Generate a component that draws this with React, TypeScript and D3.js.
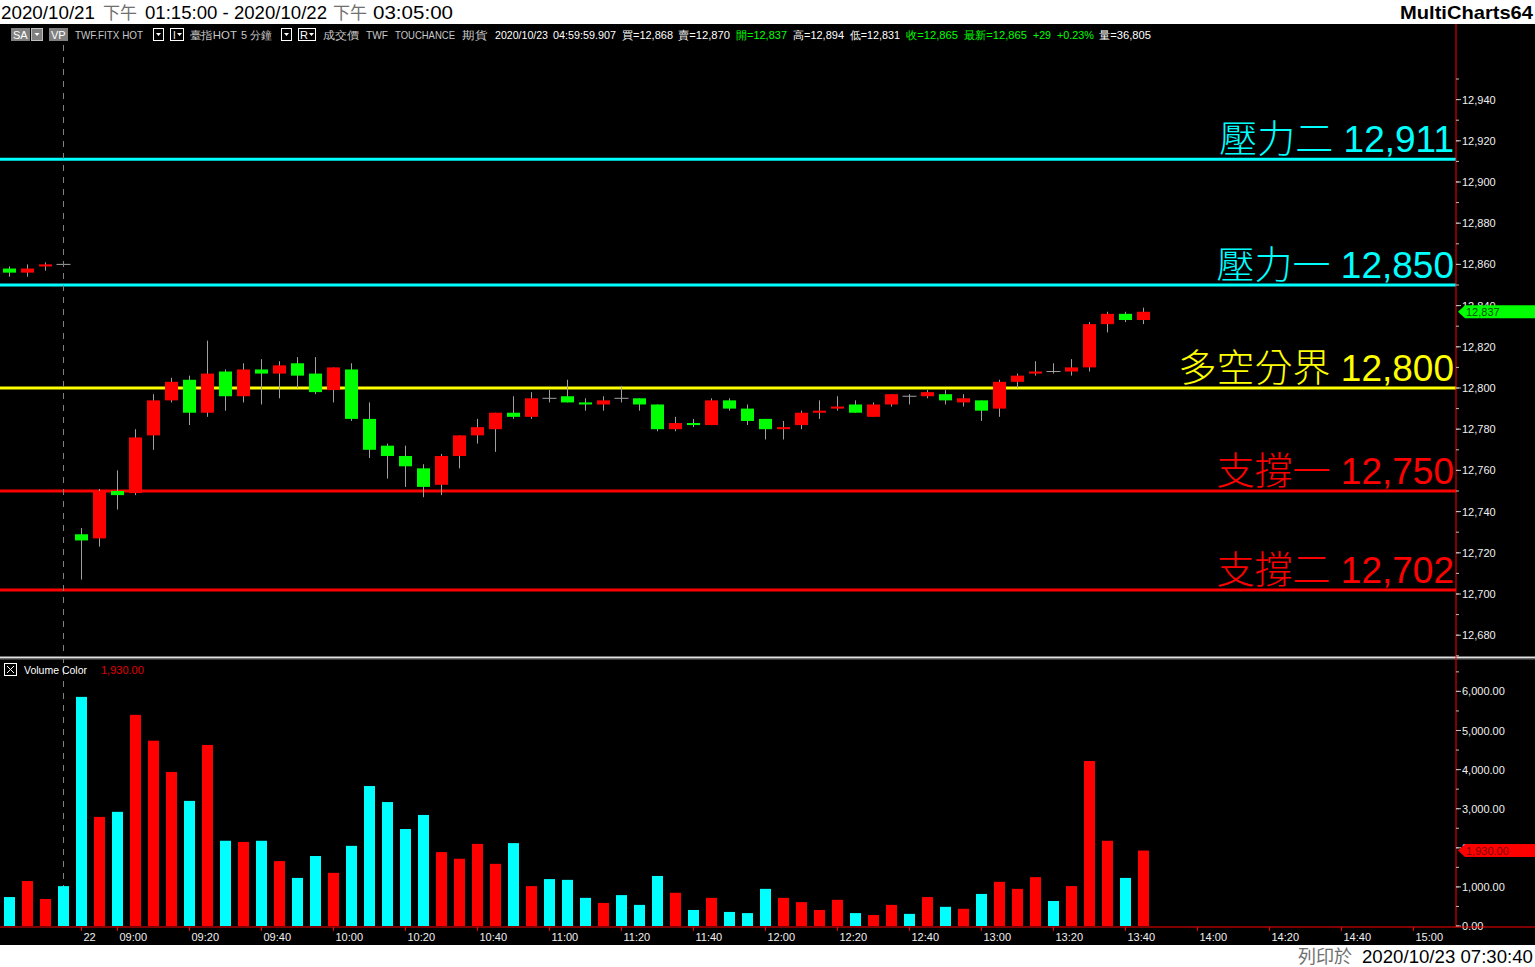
import React from "react";
import * as d3 from "d3";

// ---------------- DATA ----------------
const barTimes = [
  "13:30", "13:35", "13:40", "13:45",
  "08:50", "08:55", "09:00", "09:05", "09:10", "09:15", "09:20", "09:25", "09:30", "09:35",
  "09:40", "09:45", "09:50", "09:55", "10:00", "10:05", "10:10", "10:15", "10:20", "10:25",
  "10:30", "10:35", "10:40", "10:45", "10:50", "10:55", "11:00", "11:05", "11:10", "11:15",
  "11:20", "11:25", "11:30", "11:35", "11:40", "11:45", "11:50", "11:55", "12:00", "12:05",
  "12:10", "12:15", "12:20", "12:25", "12:30", "12:35", "12:40", "12:45", "12:50", "12:55",
  "13:00", "13:05", "13:10", "13:15", "13:20", "13:25", "13:30", "13:35", "13:40", "13:45",
];
const openValues = [
  12858, 12856, 12859, 12860,
  12729, 12727, 12750, 12749, 12777, 12794, 12804, 12788, 12808, 12796,
  12809, 12807, 12812, 12807, 12799, 12809, 12785, 12772, 12767, 12761,
  12753, 12767, 12777, 12780, 12788, 12786, 12795, 12796, 12793, 12792,
  12795, 12795, 12792, 12780, 12783, 12782, 12794, 12790, 12785, 12780,
  12782, 12788, 12790, 12792, 12786, 12792, 12796, 12796, 12797, 12793,
  12794, 12790, 12803, 12807, 12808, 12808, 12810, 12831, 12836, 12833,
];
const highValues = [
  12859, 12860, 12861, 12861,
  12732, 12751, 12760, 12780, 12797, 12805, 12806, 12823, 12809, 12812,
  12814, 12813, 12815, 12815, 12810, 12812, 12793, 12773, 12772, 12763,
  12768, 12777, 12785, 12788, 12796, 12798, 12799, 12804, 12795, 12796,
  12801, 12795, 12792, 12786, 12785, 12795, 12795, 12792, 12785, 12784,
  12789, 12794, 12796, 12794, 12793, 12797, 12797, 12799, 12799, 12797,
  12794, 12804, 12807, 12813, 12812, 12814, 12832, 12837, 12837, 12839,
];
const lowValues = [
  12854, 12854, 12857, 12859,
  12707, 12723, 12741, 12748, 12770, 12793, 12782, 12786, 12789, 12793,
  12792, 12795, 12800, 12797, 12793, 12784, 12766, 12756, 12752, 12747,
  12748, 12761, 12773, 12769, 12785, 12785, 12793, 12793, 12789, 12789,
  12793, 12789, 12779, 12779, 12781, 12782, 12789, 12782, 12775, 12775,
  12780, 12785, 12789, 12788, 12786, 12791, 12792, 12795, 12792, 12791,
  12784, 12786, 12800, 12806, 12807, 12806, 12808, 12827, 12832, 12831,
];
const closeValues = [
  12856, 12858, 12860, 12860,
  12726, 12750, 12748, 12776, 12794, 12803, 12788, 12807, 12796, 12809,
  12807, 12811, 12806, 12798, 12810, 12785, 12770, 12767, 12762, 12752,
  12767, 12777, 12781, 12788, 12786, 12795, 12795, 12793, 12792, 12794,
  12795, 12792, 12780, 12783, 12782, 12794, 12790, 12784, 12780, 12781,
  12788, 12789, 12791, 12788, 12792, 12797, 12796, 12798, 12794, 12795,
  12789, 12803, 12806, 12808, 12808, 12810, 12831, 12836, 12833, 12837,
];
const volumeValues = [
  740, 1150, 690, 1020,
  5860, 2790, 2920, 5400, 4740, 3940, 3200, 4630, 2180, 2150,
  2180, 1660, 1230, 1790, 1360, 2050, 3580, 3170, 2480, 2840,
  1890, 1720, 2100, 1590, 2120, 1020, 1200, 1180, 720, 590,
  790, 540, 1280, 850, 410, 720, 360, 330, 950, 720,
  610, 410, 670, 330, 280, 540, 310, 740, 490, 440,
  820, 1130, 950, 1250, 640, 1020, 4220, 2180, 1230, 1930,
];
const prevDayCount = 4;
const sessionStart = "08:50";

const levelNames = ["壓力二", "壓力一", "多空分界", "支撐一", "支撐二"];
const levelValues = [12911, 12850, 12800, 12750, 12702];

const priceTicks = [12680, 12700, 12720, 12740, 12760, 12780, 12800, 12820, 12840, 12860, 12880, 12900, 12920, 12940];
const volumeTicks = [0, 1000, 2000, 3000, 4000, 5000, 6000];
const timeTickTimes = ["08:50", "09:00", "09:20", "09:40", "10:00", "10:20", "10:40", "11:00", "11:20", "11:40", "12:00", "12:20", "12:40", "13:00", "13:20", "13:40", "14:00", "14:20", "14:40", "15:00"];
const timeTickLabels = ["22", "09:00", "09:20", "09:40", "10:00", "10:20", "10:40", "11:00", "11:20", "11:40", "12:00", "12:20", "12:40", "13:00", "13:20", "13:40", "14:00", "14:20", "14:40", "15:00"];

const titleParts = ["2020/10/21", "下午", "01:15:00 - 2020/10/22", "下午", "03:05:00"];
const toolbarTexts = [
  "TWF.FITX HOT", "臺指HOT", "5 分鐘", "成交價", "TWF", "TOUCHANCE", "期貨",
  "2020/10/23", "04:59:59.907", "買=12,868", "賣=12,870", "開=12,837", "高=12,894",
  "低=12,831", "收=12,865", "最新=12,865", "+29", "+0.23%", "量=36,805",
];
const printLabel = "列印於";
const printStamp = "2020/10/23 07:30:40";
const brand = "MultiCharts64";
const lastPrice = 12837;
const lastVolume = 1930;

// ---------------- LAYOUT / STYLE ----------------
const W = 1535;
const H = 967;
const AXIS_X = 1456;
const BLACK_TOP = 24;
const BLACK_BOTTOM = 945;
const PRICE_TOP = 45;
const PRICE_BOTTOM = 656;
const VOL_BASE = 926;
const TIME_AXIS_Y = 927;
const levelColors = ["#00ffff", "#00ffff", "#ffff00", "#ff0000", "#ff0000"];
const titleX = [1, 103, 145, 333, 373];
const titleLen = [94, 0, 182, 0, 80];
const toolbarX = [75, 190, 241, 323, 366, 395, 462, 495, 553, 622, 678, 736, 793, 850, 906, 964, 1033, 1057, 1099];
const toolbarLen = [68, 47, 31, 36, 22, 60, 25, 53, 63, 51, 52, 51, 51, 50, 52, 63, 18, 37, 52];
const toolbarColors = [
  "#c8c8c8", "#c8c8c8", "#c8c8c8", "#c8c8c8", "#c8c8c8", "#c8c8c8", "#c8c8c8",
  "#ffffff", "#ffffff", "#ffffff", "#ffffff", "#00ff00", "#ffffff",
  "#ffffff", "#00ff00", "#00ff00", "#00ff00", "#00ff00", "#ffffff",
];
const UP = "#ff0000";
const DOWN = "#00ff00";
const VOL_DOWN = "#00ffff";
const WICK = "#a0a0a0";
const AXIS_FONT = "'Liberation Sans', Arial, sans-serif";
const TITLE_FONT = "'Liberation Sans', Arial, sans-serif";
const CJK_FONT = "'Noto Sans CJK TC', 'Noto Sans CJK SC', sans-serif";

const toMin = (t: string) => {
  const [h, m] = t.split(":").map(Number);
  return h * 60 + m;
};
const isCJK = (s: string) => /[\u4e00-\u9fff]/.test(s);

export default function App() {
  const x = d3.scaleLinear().domain([0, 1]).range([9.5, 27.5]);
  const y = d3.scaleLinear().domain([12700, 12940]).range([594, 99.6]);
  const yv = d3.scaleLinear().domain([0, 6000]).range([VOL_BASE, 691.4]);
  const timeIndex = (t: string) => prevDayCount + (toMin(t) - toMin(sessionStart)) / 5;
  const fmt = d3.format(",");
  const fmtV = d3.format(",.2f");

  const bars = barTimes.map((t, i) => ({
    i, t, o: openValues[i], h: highValues[i], l: lowValues[i], c: closeValues[i], v: volumeValues[i],
  }));

  const minorPrice = d3.range(priceTicks[0] - 10, priceTicks[priceTicks.length - 1] + 20, 10);
  const minorVol = d3.range(0, 6600, 500);

  const yLast = y(lastPrice);
  const yVLast = yv(lastVolume);

  return (
    <svg width={W} height={H} style={{ position: "absolute", left: 0, top: 0, display: "block" }}>
      <rect x={0} y={0} width={W} height={H} fill="#ffffff" />
      {/* title */}
      {titleParts.map((s, k) =>
        isCJK(s) ? (
          <text key={k} x={titleX[k]} y={19} fontFamily={CJK_FONT} fontSize={17} fill="#707070">{s}</text>
        ) : (
          <text key={k} x={titleX[k]} y={19} fontFamily={TITLE_FONT} fontSize={19} fill="#000" textLength={titleLen[k]} lengthAdjust="spacingAndGlyphs">{s}</text>
        )
      )}
      <text x={1400} y={19} fontFamily={TITLE_FONT} fontWeight="bold" fontSize={19} fill="#000" textLength={133} lengthAdjust="spacingAndGlyphs">{brand}</text>

      <rect x={0} y={BLACK_TOP} width={W} height={BLACK_BOTTOM - BLACK_TOP} fill="#000000" />

      {/* toolbar */}
      <g fontFamily={AXIS_FONT} fontSize={11}>
        <rect x={11} y={28} width={19} height={13} fill="#808080" />
        <text x={13} y={39} fill="#ffffff">SA</text>
        <rect x={31.5} y={28.5} width={11} height={12} fill="#808080" stroke="#c0c0c0" strokeWidth={1} />
        <path d="M34.5,33 L39.5,33 L37,36 Z" fill="#ffffff" />
        <rect x={49} y={28} width={19} height={13} fill="#808080" />
        <text x={51} y={39} fill="#ffffff">VP</text>
        <rect x={153.5} y={28.5} width={10} height={12} fill="none" stroke="#ffffff" />
        <path d="M156,33 L161,33 L158.5,36 Z" fill="#ffffff" />
        <rect x={170.5} y={28.5} width={13} height={12} fill="none" stroke="#ffffff" />
        <text x={173} y={39} fill="#ffffff" fontSize={10}>I</text>
        <path d="M177,33 L182,33 L179.5,36 Z" fill="#ffffff" />
        <rect x={281.5} y={28.5} width={10} height={12} fill="none" stroke="#ffffff" />
        <path d="M284,33 L289,33 L286.5,36 Z" fill="#ffffff" />
        <rect x={298.5} y={28.5} width={17} height={12} fill="none" stroke="#ffffff" />
        <text x={300} y={39} fill="#ffffff">R</text>
        <path d="M309,33 L314,33 L311.5,36 Z" fill="#ffffff" />
        {toolbarTexts.map((s, i) => (
          <text key={i} x={toolbarX[i]} y={39} fill={toolbarColors[i]} textLength={toolbarLen[i]} lengthAdjust="spacingAndGlyphs">{s}</text>
        ))}
      </g>

      {/* price pane */}
      <g>
        <clipPath id="pclip">
          <rect x={0} y={PRICE_TOP} width={AXIS_X} height={PRICE_BOTTOM - PRICE_TOP} />
        </clipPath>
        <g clipPath="url(#pclip)">
          {levelValues.map((v, k) => (
            <line key={k} x1={0} x2={AXIS_X} y1={y(v)} y2={y(v)} stroke={levelColors[k]} strokeWidth={3} />
          ))}
          {bars.map((b) => {
            const cx = x(b.i);
            const up = b.c > b.o;
            const flat = b.c === b.o;
            const top = y(Math.max(b.o, b.c));
            const bot = y(Math.min(b.o, b.c));
            return (
              <g key={b.i}>
                <line x1={cx} x2={cx} y1={y(b.h)} y2={y(b.l)} stroke={WICK} strokeWidth={1} />
                {flat ? (
                  <line x1={cx - 7} x2={cx + 7} y1={top} y2={top} stroke={WICK} strokeWidth={1} />
                ) : (
                  <rect x={cx - 6.5} y={top} width={13} height={Math.max(bot - top, 2)} fill={up ? UP : DOWN} />
                )}
              </g>
            );
          })}
          {levelValues.map((v, k) => (
            <text key={k} x={1454} y={y(v) - 7} textAnchor="end" fill={levelColors[k]}>
              <tspan fontFamily={CJK_FONT} fontWeight={300} fontSize={38}>{levelNames[k]}</tspan>
              <tspan fontFamily={AXIS_FONT} fontSize={37}> {fmt(v)}</tspan>
            </text>
          ))}
        </g>
      </g>

      {/* session separator */}
      <line x1={x(prevDayCount - 1)} x2={x(prevDayCount - 1)} y1={PRICE_TOP} y2={VOL_BASE} stroke="#808080" strokeWidth={1} strokeDasharray="6 6" />

      {/* pane separator */}
      <rect x={0} y={656.5} width={W} height={1.5} fill="#e0e0e0" />
      <rect x={0} y={658} width={W} height={1.5} fill="#707070" />

      {/* volume pane */}
      <g>
        {bars.map((b) => (
          <rect key={b.i} x={x(b.i) - 5.5} y={yv(b.v)} width={11} height={VOL_BASE - yv(b.v)} fill={b.c > b.o ? UP : VOL_DOWN} />
        ))}
        <rect x={4.5} y={663.5} width={12} height={12} fill="none" stroke="#ffffff" />
        <path d="M7,666 L14,673 M14,666 L7,673" stroke="#ffffff" strokeWidth={1} />
        <text x={24} y={674} fontFamily={AXIS_FONT} fontSize={11} fill="#ffffff" textLength={63} lengthAdjust="spacingAndGlyphs">Volume Color</text>
        <text x={101} y={674} fontFamily={AXIS_FONT} fontSize={11} fill="#e00000">{fmtV(lastVolume)}</text>
      </g>

      {/* right axis */}
      <line x1={AXIS_X} x2={AXIS_X} y1={BLACK_TOP} y2={TIME_AXIS_Y} stroke="#ff0000" strokeWidth={1} />
      <g fontFamily={AXIS_FONT} fontSize={11} fill="#f0f0f0">
        {minorPrice.map((v) => (
          y(v) > PRICE_TOP && y(v) < PRICE_BOTTOM ? (
            <line key={"mp" + v} x1={AXIS_X} x2={AXIS_X + 3} y1={y(v)} y2={y(v)} stroke="#c0c0c0" />
          ) : null
        ))}
        {priceTicks.map((v) => (
          <g key={"p" + v}>
            <line x1={AXIS_X} x2={AXIS_X + 5} y1={y(v)} y2={y(v)} stroke="#c0c0c0" />
            <text x={1462} y={y(v) + 4}>{fmt(v)}</text>
          </g>
        ))}
        {minorVol.map((v) => (
          <line key={"mv" + v} x1={AXIS_X} x2={AXIS_X + 3} y1={yv(v)} y2={yv(v)} stroke="#c0c0c0" />
        ))}
        {volumeTicks.map((v) => (
          <g key={"v" + v}>
            <line x1={AXIS_X} x2={AXIS_X + 5} y1={yv(v)} y2={yv(v)} stroke="#c0c0c0" />
            <text x={1462} y={yv(v) + 4}>{fmtV(v)}</text>
          </g>
        ))}
      </g>
      {/* last price marker */}
      <path d={`M${AXIS_X + 2},${yLast} L${AXIS_X + 9},${yLast - 6.5} L${W},${yLast - 6.5} L${W},${yLast + 6.5} L${AXIS_X + 9},${yLast + 6.5} Z`} fill="#00ff00" />
      <text x={1466} y={yLast + 4} fontFamily={AXIS_FONT} fontSize={11} fill="#005000">{fmt(lastPrice)}</text>
      <path d={`M${AXIS_X + 2},${yVLast} L${AXIS_X + 9},${yVLast - 6.5} L${W},${yVLast - 6.5} L${W},${yVLast + 6.5} L${AXIS_X + 9},${yVLast + 6.5} Z`} fill="#ff0000" />
      <text x={1466} y={yVLast + 4} fontFamily={AXIS_FONT} fontSize={11} fill="#800000">{fmtV(lastVolume)}</text>

      {/* time axis */}
      <line x1={0} x2={W} y1={TIME_AXIS_Y} y2={TIME_AXIS_Y} stroke="#ff0000" strokeWidth={1} />
      <g fontFamily={AXIS_FONT} fontSize={11} fill="#f0f0f0">
        {timeTickTimes.map((t, k) => {
          const tx = x(timeIndex(t));
          return (
            <g key={t}>
              <line x1={tx} x2={tx} y1={TIME_AXIS_Y} y2={TIME_AXIS_Y + 4} stroke="#ff0000" />
              <text x={tx + 2} y={941}>{timeTickLabels[k]}</text>
            </g>
          );
        })}
      </g>

      {/* print stamp */}
      <text x={1298} y={963} fontFamily={CJK_FONT} fontSize={18} fill="#707070">{printLabel}</text>
      <text x={1362} y={963} fontFamily={TITLE_FONT} fontSize={19} fill="#000" textLength={171} lengthAdjust="spacingAndGlyphs">{printStamp}</text>
    </svg>
  );
}
